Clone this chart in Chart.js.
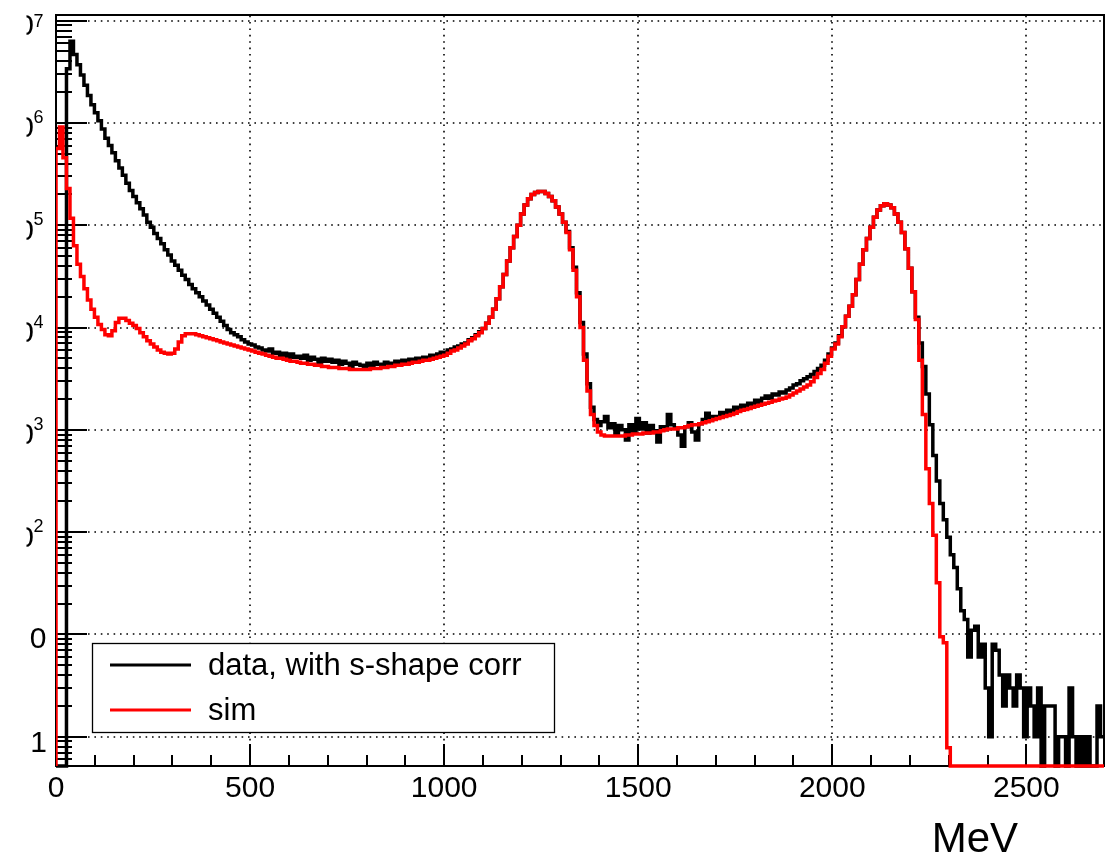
<!DOCTYPE html>
<html>
<head>
<meta charset="utf-8">
<title>Energy spectrum: data vs sim</title>
<script src="https://cdn.jsdelivr.net/npm/chart.js@4.4.1/dist/chart.umd.min.js"></script>
<style>
    html, body { margin: 0; padding: 0; background: #fff; }
    #wrap { width: 1115px; height: 856px; }
</style>
</head>
<body>
<div id="wrap"><canvas id="spectrum" width="1115" height="856"></canvas></div>
<script>
// Histogram binning (MeV)
const BIN_WIDTH = 9;
const X_MIN = 0;
const X_MAX = 2700;
const Y_MIN = 0.517;
const Y_MAX = 1.137e7;

// Axis labels / ticks
const X_TICK_LABELS = [0, 500, 1000, 1500, 2000, 2500];
const X_MINOR_STEP = 100;
const Y_DECADES = [0, 1, 2, 3, 4, 5, 6, 7];

// Counts per 9 MeV bin, measured data
const DATA_COUNTS = [
    0, 0, 0, 3390000, 6310000, 4680000, 3720000, 2950000, 2340000, 1860000,
    1510000, 1260000, 1050000, 871000, 708000, 603000, 513000, 427000, 363000, 309000,
    257000, 219000, 191000, 166000, 145000, 126000, 107000, 95500, 83200, 74100,
    66100, 57500, 51300, 44700, 40700, 36300, 32400, 29500, 26300, 24000,
    21900, 20000, 18200, 16600, 15100, 13800, 12600, 11500, 10500, 9550,
    8910, 8510, 8130, 7590, 7240, 6920, 6760, 6460, 6310, 6030,
    5890, 6170, 5620, 5750, 5370, 5620, 5010, 5500, 5130, 5250,
    5010, 5370, 4790, 5130, 4900, 4470, 5010, 4680, 4900, 4570,
    4790, 4370, 4680, 4470, 4170, 4570, 4370, 4270, 4070, 4470,
    4270, 4570, 4370, 4170, 4570, 4470, 4270, 4680, 4470, 4790,
    4370, 4900, 4680, 5010, 4790, 5130, 4900, 5370, 5250, 5500,
    5750, 5620, 6030, 6170, 6460, 6610, 6920, 7080, 7590, 7940,
    8510, 9120, 9770, 11000, 12600, 15100, 19100, 25100, 33100, 44700,
    60300, 77600, 100000, 129000, 158000, 182000, 200000, 209000, 214000, 214000,
    204000, 191000, 174000, 151000, 129000, 107000, 87100, 60300, 38900, 21900,
    11200, 5500, 2820, 1660, 1260, 1100, 1200, 1350, 1050, 1150,
    912, 1100, 1000, 794, 1120, 955, 1290, 1020, 1170, 933,
    1100, 977, 759, 1070, 1000, 1410, 1120, 1050, 891, 692,
    1070, 1170, 955, 794, 1150, 1260, 1450, 1260, 1350, 1320,
    1480, 1380, 1550, 1480, 1660, 1580, 1740, 1660, 1820, 1780,
    1950, 1860, 2040, 2140, 2040, 2240, 2190, 2340, 2290, 2450,
    2570, 2750, 2820, 3020, 3160, 3310, 3470, 3720, 3980, 4270,
    4790, 5500, 6310, 7080, 8320, 10200, 12900, 16200, 20900, 29500,
    41700, 57500, 74100, 95500, 120000, 141000, 155000, 162000, 158000, 148000,
    129000, 107000, 85100, 58900, 38000, 22400, 12600, 7080, 4170, 2240,
    1120, 562, 316, 191, 132, 89, 60, 45, 28, 17,
    14, 6, 11, 12, 6, 8, 3, 1, 8, 7,
    4, 2, 4, 3, 2, 4, 3, 1, 3, 2,
    1, 3, 0, 2, 2, 2, 0, 1, 1, 0,
    3, 1, 0, 1, 0, 1, 0, 0, 2, 1
];

// Counts per 9 MeV bin, simulation
const SIM_COUNTS = [
    562000, 912000, 457000, 229000, 117000, 63100, 41700, 31600, 24000, 18600,
    15100, 12600, 10700, 9550, 8510, 8320, 9330, 11200, 12300, 12300,
    11700, 11000, 10500, 9770, 8910, 8130, 7410, 6920, 6460, 6030,
    5750, 5620, 5500, 5620, 6170, 7240, 8320, 8710, 8710, 8710,
    8510, 8320, 8130, 7940, 7760, 7590, 7410, 7240, 7080, 6920,
    6760, 6610, 6460, 6310, 6170, 6030, 5890, 5750, 5620, 5500,
    5370, 5250, 5130, 5010, 5010, 4900, 4790, 4680, 4680, 4570,
    4470, 4470, 4370, 4370, 4270, 4270, 4170, 4170, 4070, 4070,
    4070, 3980, 3980, 3980, 3890, 3890, 3890, 3890, 3890, 3890,
    3980, 3980, 3980, 4070, 4070, 4170, 4170, 4270, 4270, 4370,
    4370, 4470, 4570, 4570, 4680, 4790, 4790, 4900, 5010, 5130,
    5250, 5370, 5620, 5890, 6030, 6310, 6610, 6920, 7410, 7760,
    8320, 8910, 9770, 11000, 12600, 15100, 19100, 25100, 33100, 44700,
    60300, 77600, 100000, 129000, 158000, 182000, 200000, 209000, 214000, 214000,
    204000, 191000, 174000, 151000, 129000, 107000, 85100, 57500, 36300, 20000,
    10000, 4790, 2400, 1410, 1100, 955, 891, 871, 871, 871,
    871, 871, 871, 891, 891, 912, 912, 912, 933, 933,
    933, 955, 955, 977, 1000, 1020, 1020, 1020, 1050, 1050,
    1070, 1100, 1120, 1120, 1150, 1170, 1200, 1230, 1260, 1290,
    1320, 1350, 1380, 1410, 1450, 1510, 1550, 1580, 1620, 1660,
    1700, 1740, 1780, 1820, 1860, 1910, 1950, 2000, 2040, 2090,
    2190, 2290, 2400, 2510, 2630, 2750, 2950, 3240, 3550, 3890,
    4470, 5250, 6170, 6920, 8130, 10200, 12900, 16200, 20900, 29500,
    41700, 57500, 74100, 95500, 120000, 141000, 155000, 162000, 158000, 148000,
    129000, 107000, 85100, 58900, 38000, 22400, 12000, 4790, 1410, 417,
    191, 93, 32, 9.5, 8.3, 0.78, 0, 0, 0, 0,
    0, 0, 0, 0, 0, 0, 0, 0, 0, 0,
    0, 0, 0, 0, 0, 0, 0, 0, 0, 0,
    0, 0, 0, 0, 0, 0, 0, 0, 0, 0,
    0, 0, 0, 0, 0, 0, 0, 0, 0, 0
];

const FONT = '"Liberation Sans", Arial, Helvetica, sans-serif';

// empty bins sit on the bottom of the log axis, like ROOT does
function floorLog(v) {
    return v > 0 ? v : Y_MIN;
}

// bin contents -> step points at the lower bin edges (plus the closing edge)
function toSteps(counts) {
    const pts = [{ x: 0, y: Y_MIN }];
    counts.forEach((c, i) => pts.push({ x: i * BIN_WIDTH, y: floorLog(c) }));
    pts.push({ x: counts.length * BIN_WIDTH, y: floorLog(counts[counts.length - 1]) });
    return pts;
}

function yMinorValues() {
    const out = [];
    for (let n = -1; n <= 7; n++) {
        for (let k = 2; k <= 9; k++) {
            const v = k * Math.pow(10, n);
            if (v > Y_MIN && v < Y_MAX) out.push(v);
        }
    }
    return out;
}

// ROOT-like frame: dotted grid, inward ticks, labels and a boxed legend
const rootAxes = {
    id: 'rootAxes',
    beforeDatasetsDraw(chart) {
        const { ctx, chartArea: a, scales: { x, y } } = chart;
        ctx.save();

        // dotted grid
        ctx.strokeStyle = '#000';
        ctx.lineWidth = 1.6;
        ctx.setLineDash([1.6, 4.8]);
        X_TICK_LABELS.forEach(v => {
            if (v <= X_MIN) return;
            const px = Math.round(x.getPixelForValue(v));
            ctx.beginPath();
            ctx.moveTo(px, a.bottom);
            ctx.lineTo(px, a.top);
            ctx.stroke();
        });
        Y_DECADES.forEach(n => {
            const py = Math.round(y.getPixelForValue(Math.pow(10, n)));
            ctx.beginPath();
            ctx.moveTo(a.left, py);
            ctx.lineTo(a.right, py);
            ctx.stroke();
        });
        ctx.setLineDash([]);

        // tick marks, drawn inward
        ctx.lineWidth = 2;
        ctx.beginPath();
        for (let v = X_MIN + X_MINOR_STEP; v < X_MAX; v += X_MINOR_STEP) {
            const px = Math.round(x.getPixelForValue(v));
            const len = v % 500 === 0 ? 22 : 11;
            ctx.moveTo(px, a.bottom);
            ctx.lineTo(px, a.bottom - len);
        }
        Y_DECADES.forEach(n => {
            const py = Math.round(y.getPixelForValue(Math.pow(10, n)));
            ctx.moveTo(a.left, py);
            ctx.lineTo(a.left + 31, py);
        });
        yMinorValues().forEach(v => {
            const py = Math.round(y.getPixelForValue(v));
            ctx.moveTo(a.left, py);
            ctx.lineTo(a.left + 16, py);
        });
        ctx.stroke();

        // frame
        ctx.strokeRect(a.left, a.top, a.right - a.left, a.bottom - a.top);
        ctx.restore();
    },
    afterDatasetsDraw(chart) {
        const { ctx, chartArea: a, scales: { x, y } } = chart;
        ctx.save();
        ctx.fillStyle = '#000';
        ctx.textBaseline = 'alphabetic';

        // x tick labels
        ctx.font = '30px ' + FONT;
        ctx.textAlign = 'center';
        X_TICK_LABELS.forEach(v => {
            ctx.fillText(String(v), x.getPixelForValue(v), 797);
        });

        // axis title
        ctx.font = '42px ' + FONT;
        ctx.textAlign = 'right';
        ctx.fillText('MeV', 1018, 852);

        // y labels, the left margin is cut off
        Y_DECADES.forEach(n => {
            const py = y.getPixelForValue(Math.pow(10, n));
            const cut = n === 1 ? 29 : 26.5;
            ctx.save();
            ctx.beginPath();
            ctx.rect(cut, 0, a.left - cut, chart.height);
            ctx.clip();
            ctx.textAlign = 'right';
            ctx.font = '30px ' + FONT;
            if (n === 0) {
                ctx.fillText('1', 47, py + 15);
            } else if (n === 1) {
                ctx.fillText('10', 46.5, py + 14);
            } else {
                const shift = n === 7 ? 6 : 0;
                ctx.fillText('10', 34, py + 14.5);
                ctx.font = '18px ' + FONT;
                ctx.textAlign = 'left';
                ctx.fillText(String(n), 33.5, py + shift);
            }
            ctx.restore();
        });

        // legend box
        const box = { l: 92.5, t: 643.5, w: 462, h: 89 };
        ctx.fillStyle = '#fff';
        ctx.fillRect(box.l, box.t, box.w, box.h);
        ctx.strokeStyle = '#000';
        ctx.lineWidth = 1.3;
        ctx.strokeRect(box.l, box.t, box.w, box.h);

        const rows = [665, 710];
        chart.data.datasets.forEach((ds, i) => {
            ctx.strokeStyle = ds.borderColor;
            ctx.lineWidth = 3;
            ctx.beginPath();
            ctx.moveTo(110, rows[i]);
            ctx.lineTo(191, rows[i]);
            ctx.stroke();
            ctx.fillStyle = '#000';
            ctx.font = '31px ' + FONT;
            ctx.textAlign = 'left';
            ctx.fillText(ds.label, 208, rows[i] + 10);
        });
        ctx.restore();
    }
};

new Chart(document.getElementById('spectrum'), {
    type: 'line',
    data: {
        datasets: [
            {
                label: 'data, with s-shape corr',
                data: toSteps(DATA_COUNTS),
                borderColor: '#000000',
                borderWidth: 3.5,
                order: 1,
                clip: { left: 0, top: 0, right: 0, bottom: 2 }
            },
            {
                label: 'sim',
                data: toSteps(SIM_COUNTS),
                borderColor: '#ff0000',
                borderWidth: 3.5,
                order: 0,
                clip: { left: 0, top: 0, right: 0, bottom: 2 }
            }
        ]
    },
    options: {
        responsive: false,
        animation: false,
        devicePixelRatio: 1,
        layout: { padding: { left: 56, right: 11, top: 15, bottom: 90 } },
        elements: {
            point: { radius: 0 },
            line: { tension: 0, stepped: 'before', fill: false, borderJoinStyle: 'miter', borderCapStyle: 'butt' }
        },
        scales: {
            x: { type: 'linear', min: X_MIN, max: X_MAX, display: false },
            y: { type: 'logarithmic', min: Y_MIN, max: Y_MAX, display: false }
        },
        plugins: {
            legend: { display: false },
            tooltip: { enabled: false }
        }
    },
    plugins: [rootAxes]
});
</script>
</body>
</html>
